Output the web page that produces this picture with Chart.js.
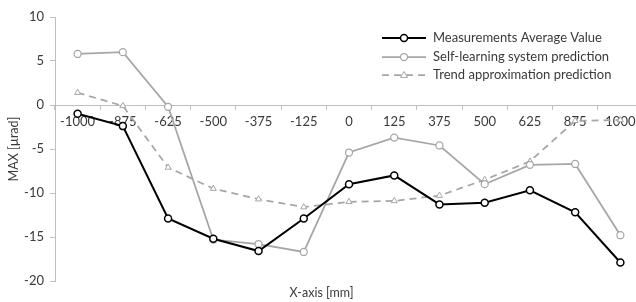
<!DOCTYPE html>
<html>
<head>
<meta charset="utf-8">
<script src="https://cdn.jsdelivr.net/npm/chart.js@4.4.1/dist/chart.umd.min.js"></script>
<style>
	html, body { margin: 0; padding: 0; background: #fff; overflow: hidden; }
	.wrapper { width: 650px; height: 302px; }
</style>
</head>
<body>
<div class="wrapper"><canvas id="chart" width="650" height="302"></canvas></div>
<script>
// categories on the x axis (mm)
const positions = ['-1000', '-875', '-625', '-500', '-375', '-125', '0', '125', '375', '500', '625', '875', '1000'];
// series values (µrad)
const measured = [-1.0, -2.4, -12.9, -15.2, -16.6, -12.9, -9.0, -8.0, -11.3, -11.1, -9.7, -12.2, -17.9];
const selfLearning = [5.8, 6.0, -0.2, -15.3, -15.8, -16.7, -5.4, -3.7, -4.6, -9.0, -6.8, -6.7, -14.8];
const trend = [1.4, -0.1, -7.1, -9.5, -10.7, -11.6, -11.0, -10.9, -10.3, -8.5, -6.4, -1.8, -1.7];
// y ticks
const yTicks = [10, 5, 0, -5, -10, -15, -20];

const font = "Lato, 'Open Sans', sans-serif";
const axisGrey = '#bfbfbf';
const lineGrey = '#a6a6a6';
const textColor = '#3a3a3a';

//Legend drawn inside the chart area, top right
const legendInside = {
	id: 'legendInside',
	afterDraw(chart) {
		const ctx = chart.ctx;
		const x0 = 382, x1 = 426, tx = 433;
		const rows = [38, 57, 75];
		chart.data.datasets.forEach((ds, i) => {
			const y = rows[i];
			ctx.save();
			ctx.strokeStyle = ds.borderColor;
			ctx.lineWidth = ds.borderWidth;
			ctx.setLineDash(ds.borderDash || []);
			ctx.beginPath();
			ctx.moveTo(x0, y);
			ctx.lineTo(x1, y);
			ctx.stroke();
			ctx.setLineDash([]);
			ctx.fillStyle = '#ffffff';
			ctx.strokeStyle = ds.pointBorderColor;
			ctx.lineWidth = ds.pointBorderWidth;
			const cx = (x0 + x1) / 2;
			ctx.beginPath();
			if (ds.pointStyle === 'triangle') {
				const r = ds.pointRadius;
				ctx.moveTo(cx, y - r);
				ctx.lineTo(cx + r, y + r * 0.7);
				ctx.lineTo(cx - r, y + r * 0.7);
				ctx.closePath();
			} else {
				ctx.arc(cx, y, ds.pointRadius, 0, Math.PI * 2);
			}
			ctx.fill();
			ctx.stroke();
			ctx.fillStyle = textColor;
			ctx.font = '13px ' + font;
			ctx.textBaseline = 'middle';
			ctx.fillText(ds.label, tx, y);
			ctx.restore();
		});
	},
};

new Chart(document.getElementById('chart'), {
	type: 'line',
	plugins: [legendInside],
	data: {
		labels: positions,
		datasets: [
			{
				label: 'Measurements Average Value',
				data: measured,
				borderColor: '#000000',
				borderWidth: 2,
				pointStyle: 'circle',
				pointRadius: 3.5,
				pointBorderWidth: 1.5,
				pointBorderColor: '#000000',
				pointBackgroundColor: '#ffffff',
			},
			{
				label: 'Self-learning system prediction',
				data: selfLearning,
				borderColor: lineGrey,
				borderWidth: 1.75,
				pointStyle: 'circle',
				pointRadius: 3.5,
				pointBorderWidth: 1.25,
				pointBorderColor: lineGrey,
				pointBackgroundColor: '#ffffff',
			},
			{
				label: 'Trend approximation prediction',
				data: trend,
				borderColor: lineGrey,
				borderWidth: 1.75,
				borderDash: [7, 5],
				pointStyle: 'triangle',
				pointRadius: 3.5,
				pointBorderWidth: 1,
				pointBorderColor: lineGrey,
				pointBackgroundColor: '#ffffff',
			},
		],
	},
	options: {
		responsive: false,
		animation: false,
		layout: { padding: { top: 17, right: 7, bottom: 0, left: 0 } },
		plugins: {
			legend: { display: false },
			tooltip: { enabled: false },
			title: {
				display: true,
				position: 'bottom',
				text: 'X-axis [mm]',
				color: textColor,
				font: { family: font, size: 12.5, weight: 'normal' },
				padding: { top: 4, bottom: 2 },
			},
		},
		scales: {
			x: {
				position: { y: 0 },
				offset: true,
				grid: { offset: true, drawOnChartArea: false, drawTicks: true, tickLength: 4, color: axisGrey },
				border: { display: true, color: axisGrey, width: 1 },
				ticks: {
					color: textColor,
					font: { family: font, size: 13 },
					padding: 5,
					maxRotation: 0,
					autoSkip: false,
				},
			},
			y: {
				min: -20,
				max: 10,
				afterFit: (scale) => { scale.width = 55; },
				afterBuildTicks: (scale) => { scale.ticks = yTicks.map((v) => ({ value: v })); },
				grid: { drawOnChartArea: false, drawTicks: true, tickLength: 5, color: axisGrey },
				border: { display: true, color: axisGrey, width: 1 },
				ticks: {
					color: textColor,
					font: { family: font, size: 13 },
					padding: 6,
				},
				title: {
					display: true,
					text: 'MAX [µrad]',
					color: textColor,
					font: { family: font, size: 12.5, weight: 'normal' },
					padding: { top: 6, bottom: 0 },
				},
			},
		},
	},
});
</script>
</body>
</html>
